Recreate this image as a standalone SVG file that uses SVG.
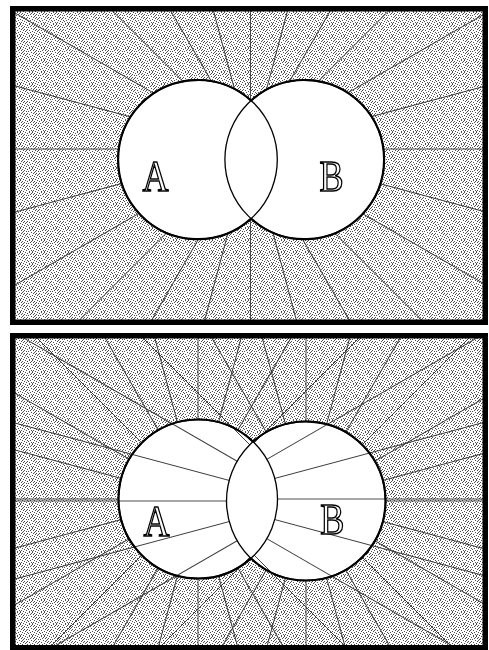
<svg xmlns="http://www.w3.org/2000/svg" width="489" height="650" viewBox="0 0 489 650">
<style>
.ray{stroke:#3a3a3a;stroke-width:0.9;fill:none}
.frame{fill:none;stroke:#000;stroke-width:5.5}
.bg{fill:url(#stip)}
.disk{fill:#fff;stroke:none}
.ring{fill:none;stroke:#000;stroke-width:1.3}
.rim{fill:none;stroke:#000;stroke-width:2.2}
.lbl{font-family:"Liberation Serif","Times New Roman",serif;font-size:44px;fill:#fff;stroke:#000;stroke-width:1.5;text-anchor:middle}
</style>
<defs>
<filter id="flat" x="-10%" y="-10%" width="120%" height="120%"><feOffset dx="0" dy="0"/></filter>
<pattern id="stip" patternUnits="userSpaceOnUse" x="0" y="0" width="12" height="12">
<rect width="12" height="12" fill="#fff"/>
<path fill="#4e4e4e" d="M1 0h1v1h-1zM5 0h1v1h-1zM8 0h1v1h-1zM3 1h1v1h-1zM7 1h1v1h-1zM10 1h1v1h-1zM0 2h1v1h-1zM6 2h1v1h-1zM9 2h1v1h-1zM2 3h1v1h-1zM4 3h1v1h-1zM11 3h1v1h-1zM7 4h1v1h-1zM10 4h1v1h-1zM0 5h1v1h-1zM3 5h1v1h-1zM9 5h1v1h-1zM2 6h1v1h-1zM5 6h1v1h-1zM11 6h1v1h-1zM1 7h1v1h-1zM8 7h1v1h-1zM3 8h1v1h-1zM6 8h1v1h-1zM10 8h1v1h-1zM0 9h1v1h-1zM4 9h1v1h-1zM2 10h1v1h-1zM7 10h1v1h-1zM9 10h1v1h-1zM5 11h1v1h-1zM8 11h1v1h-1zM11 11h1v1h-1z"/>
</pattern>
<g id="rays" class="ray">
<line x1="-700" y1="0" x2="700" y2="0"/>
<line x1="-700" y1="0" x2="700" y2="0" transform="rotate(15)"/>
<line x1="-700" y1="0" x2="700" y2="0" transform="rotate(30)"/>
<line x1="-700" y1="0" x2="700" y2="0" transform="rotate(45)"/>
<line x1="-700" y1="0" x2="700" y2="0" transform="rotate(60)"/>
<line x1="-700" y1="0" x2="700" y2="0" transform="rotate(75)"/>
<line x1="-700" y1="0" x2="700" y2="0" transform="rotate(90)"/>
<line x1="-700" y1="0" x2="700" y2="0" transform="rotate(105)"/>
<line x1="-700" y1="0" x2="700" y2="0" transform="rotate(120)"/>
<line x1="-700" y1="0" x2="700" y2="0" transform="rotate(135)"/>
<line x1="-700" y1="0" x2="700" y2="0" transform="rotate(150)"/>
<line x1="-700" y1="0" x2="700" y2="0" transform="rotate(165)"/>
</g>
<clipPath id="cTop"><rect x="15" y="11" width="468" height="309"/></clipPath>
<clipPath id="cBotA"><path clip-rule="evenodd" d="M15 338H483V647H15Z M118.5 499a79.5 79.5 0 1 0 159 0a79.5 79.5 0 1 0 -159 0Z"/></clipPath>
<clipPath id="cBotB"><path clip-rule="evenodd" d="M15 338H483V647H15Z M226.5 501a79.5 79.5 0 1 0 159 0a79.5 79.5 0 1 0 -159 0Z"/></clipPath>
</defs>

<g id="panel-top">
<rect class="bg" x="15" y="11" width="468" height="309"/>
<g id="connectors-top" clip-path="url(#cTop)"><use href="#rays" transform="translate(250.5 149)"/></g>
<g id="disks-top">
<circle class="disk" cx="197.7" cy="159.6" r="79.6"/>
<circle class="disk" cx="304.5" cy="159.6" r="79.6"/>
</g>
<g id="node-A-top">
<circle class="ring" cx="197.7" cy="159.6" r="79.6"/>
<path class="rim" d="M251.1 100.57A79.6 79.6 0 1 0 251.1 218.63"/>
<g filter="url(#flat)"><text class="lbl" transform="translate(155.5 191) scale(0.82 1)">A</text></g>
</g>
<g id="node-B-top">
<circle class="ring" cx="304.5" cy="159.6" r="79.6"/>
<path class="rim" d="M251.1 100.57A79.6 79.6 0 1 1 251.1 218.63"/>
<g filter="url(#flat)"><text class="lbl" transform="translate(331.5 191) scale(0.82 1)">B</text></g>
</g>
<rect class="frame" x="12.75" y="8.75" width="472.5" height="313.5"/>
</g>

<g id="panel-bottom">
<rect class="bg" x="15" y="338" width="468" height="310"/>
<g id="disks-bottom">
<circle class="disk" cx="198" cy="499" r="79.5"/>
<circle class="disk" cx="306" cy="501" r="79.5"/>
</g>
<g id="connectors-bottom">
<g clip-path="url(#cBotA)"><use href="#rays" transform="translate(198 499)"/></g>
<g clip-path="url(#cBotB)"><use href="#rays" transform="translate(306 501)"/></g>
</g>
<g id="node-A-bottom">
<circle class="ring" cx="198" cy="499" r="79.5"/>
<path class="rim" d="M253.08 441.67A79.5 79.5 0 1 0 250.92 558.33"/>
<g filter="url(#flat)"><text class="lbl" transform="translate(156.5 535.5) scale(0.82 1)">A</text></g>
</g>
<g id="node-B-bottom">
<circle class="ring" cx="306" cy="501" r="79.5"/>
<path class="rim" d="M253.08 441.67A79.5 79.5 0 1 1 250.92 558.33"/>
<g filter="url(#flat)"><text class="lbl" transform="translate(332.3 533.5) scale(0.82 1)">B</text></g>
</g>
<rect class="frame" x="12.75" y="335.75" width="472.5" height="312"/>
</g>
</svg>
